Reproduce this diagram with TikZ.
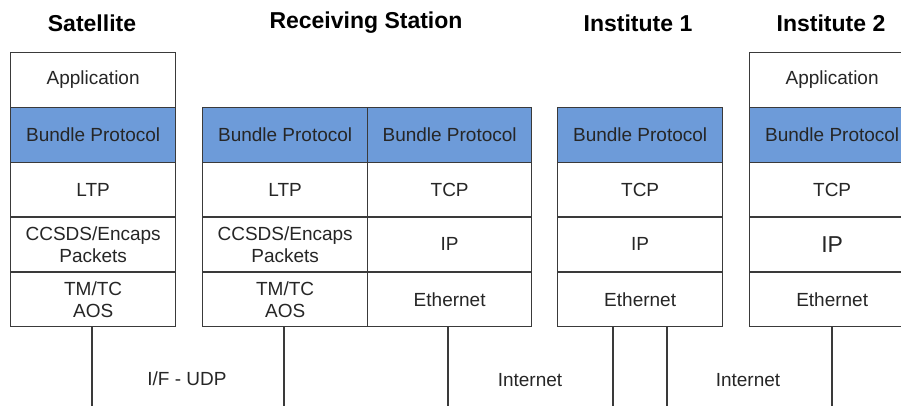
\documentclass[tikz,border=0pt]{standalone}
\usepackage{fontspec}
\setmainfont{Liberation Sans}
\definecolor{bpblue}{HTML}{6D9BD9}
\definecolor{edge}{HTML}{3A3A3A}
\definecolor{txt}{HTML}{262626}
\begin{document}
\begin{tikzpicture}[x=1pt,y=-1pt,
  cell/.style={draw=edge,line width=1.3pt,fill=white,minimum width=165pt,
    minimum height=54.8pt,anchor=north west,inner sep=0pt,align=center,
    text=txt,font=\fontsize{19}{22}\selectfont},
  bp/.style={cell,fill=bpblue},
  title/.style={font=\bfseries\fontsize{23}{25}\selectfont,text=black},
  wire/.style={draw=edge,line width=1.3pt},
  netlabel/.style={text=txt,font=\fontsize{19}{22}\selectfont}]
\useasboundingbox (0,0) rectangle (901,405);

% column titles
\node[title] (tsat) at (92,23) {Satellite};
\node[title] (trs)  at (366,23) {Receiving Station};
\node[title] (ti1)  at (638,23) {Institute 1};
\node[title] (ti2)  at (831,23) {Institute 2};

% Satellite stack
\node[cell] (sapp) at (10,52)    {Application};
\node[bp]   (sbp)  at (10,106.8) {Bundle Protocol};
\node[cell] (sltp) at (10,161.6) {LTP};
\node[cell] (sccs) at (10,216.4) {CCSDS/Encaps\\Packets};
\node[cell] (stm)  at (10,271.2) {TM/TC\\AOS};

% Receiving station: space side
\node[bp]   (rbp1) at (202,106.8) {Bundle Protocol};
\node[cell] (rltp) at (202,161.6) {LTP};
\node[cell] (rccs) at (202,216.4) {CCSDS/Encaps\\Packets};
\node[cell] (rtm)  at (202,271.2) {TM/TC\\AOS};

% Receiving station: ground side
\node[bp,minimum width=164pt]   (rbp2) at (367,106.8) {Bundle Protocol};
\node[cell,minimum width=164pt] (rtcp) at (367,161.6) {TCP};
\node[cell,minimum width=164pt] (rip)  at (367,216.4) {IP};
\node[cell,minimum width=164pt] (reth) at (367,271.2) {Ethernet};

% Institute 1 stack
\node[bp]   (abp)  at (557,106.8) {Bundle Protocol};
\node[cell] (atcp) at (557,161.6) {TCP};
\node[cell] (aip)  at (557,216.4) {IP};
\node[cell] (aeth) at (557,271.2) {Ethernet};

% Institute 2 stack
\node[cell] (bapp) at (749,52)    {Application};
\node[bp]   (bbp)  at (749,106.8) {Bundle Protocol};
\node[cell] (btcp) at (749,161.6) {TCP};
\node[cell,font=\fontsize{23}{25}\selectfont] (bip) at (749,216.4) {IP};
\node[cell] (beth) at (749,271.2) {Ethernet};

% links leaving the bottom of each stack
\coordinate (w1) at (92,406);
\coordinate (w2) at (284,406);
\coordinate (w3) at (448,406);
\coordinate (w4) at (613,406);
\coordinate (w5) at (667,406);
\coordinate (w6) at (832,406);
\draw[wire] (w1 |- stm.south)  -- (w1);
\draw[wire] (w2 |- rtm.south)  -- (w2);
\draw[wire] (w3 |- reth.south) -- (w3);
\draw[wire] (w4 |- aeth.south) -- (w4);
\draw[wire] (w5 |- aeth.south) -- (w5);
\draw[wire] (w6 |- beth.south) -- (w6);

% link labels
\node[netlabel] (l1) at (187,379) {I/F - UDP};
\node[netlabel] (l2) at (530,380) {Internet};
\node[netlabel] (l3) at (748,380) {Internet};
\end{tikzpicture}
\end{document}
